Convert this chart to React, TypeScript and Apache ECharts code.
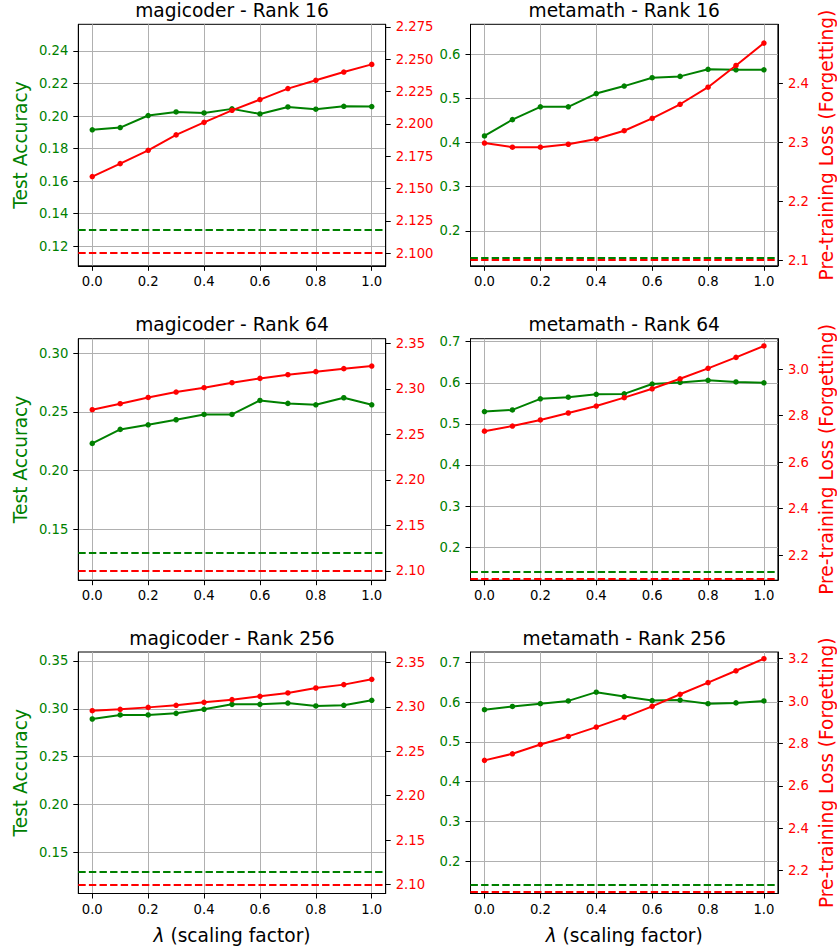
import React, { useEffect, useRef } from "react";
import * as echarts from "echarts";

const lambdas = [0.0, 0.1, 0.2, 0.3, 0.4, 0.5, 0.6, 0.7, 0.8, 0.9, 1.0];

const magicoderR16Acc = [0.1915, 0.1929, 0.2003, 0.2025, 0.2019, 0.2044, 0.2013, 0.2056, 0.2042, 0.206, 0.2058];
const magicoderR16Loss = [2.1592, 2.1692, 2.1795, 2.1914, 2.2011, 2.2104, 2.2187, 2.2272, 2.2336, 2.24, 2.2459];
const metamathR16Acc = [0.415, 0.452, 0.481, 0.481, 0.511, 0.528, 0.547, 0.55, 0.566, 0.565, 0.565];
const metamathR16Loss = [2.299, 2.292, 2.292, 2.297, 2.306, 2.32, 2.341, 2.365, 2.394, 2.431, 2.469];
const magicoderR64Acc = [0.2232, 0.2351, 0.239, 0.2433, 0.2478, 0.2478, 0.2597, 0.2572, 0.256, 0.262, 0.256];
const magicoderR64Loss = [2.2771, 2.2837, 2.2906, 2.2965, 2.3013, 2.3068, 2.3115, 2.3156, 2.3189, 2.3222, 2.3251];
const metamathR64Acc = [0.53, 0.534, 0.561, 0.565, 0.572, 0.573, 0.597, 0.601, 0.606, 0.602, 0.6];
const metamathR64Loss = [2.733, 2.755, 2.781, 2.811, 2.841, 2.877, 2.915, 2.958, 3.003, 3.05, 3.099];
const magicoderR256Acc = [0.2894, 0.2936, 0.2936, 0.2953, 0.2995, 0.3047, 0.3047, 0.3061, 0.303, 0.3037, 0.3089];
const magicoderR256Loss = [2.2956, 2.2971, 2.2993, 2.3016, 2.305, 2.308, 2.3117, 2.3155, 2.3211, 2.3249, 2.3309];
const metamathR256Acc = [0.581, 0.589, 0.596, 0.603, 0.625, 0.614, 0.604, 0.605, 0.596, 0.598, 0.603];
const metamathR256Loss = [2.72, 2.751, 2.795, 2.833, 2.877, 2.923, 2.975, 3.032, 3.087, 3.143, 3.2];

const panelTitles = [
  "magicoder - Rank 16",
  "metamath - Rank 16",
  "magicoder - Rank 64",
  "metamath - Rank 64",
  "magicoder - Rank 256",
  "metamath - Rank 256",
];
const accSeries = [magicoderR16Acc, metamathR16Acc, magicoderR64Acc, metamathR64Acc, magicoderR256Acc, metamathR256Acc];
const lossSeries = [magicoderR16Loss, metamathR16Loss, magicoderR64Loss, metamathR64Loss, magicoderR256Loss, metamathR256Loss];
const accBaselines = [0.1276, 0.1397, 0.1276, 0.1397, 0.1276, 0.1397];
const lossBaselines = [2.1, 2.1, 2.1, 2.1, 2.1, 2.1];

const xTicks = [0.0, 0.2, 0.4, 0.6, 0.8, 1.0];
const accTicks = [
  [0.12, 0.14, 0.16, 0.18, 0.2, 0.22, 0.24],
  [0.2, 0.3, 0.4, 0.5, 0.6],
  [0.15, 0.2, 0.25, 0.3],
  [0.2, 0.3, 0.4, 0.5, 0.6, 0.7],
  [0.15, 0.2, 0.25, 0.3, 0.35],
  [0.2, 0.3, 0.4, 0.5, 0.6, 0.7],
];
const lossTicks = [
  [2.1, 2.125, 2.15, 2.175, 2.2, 2.225, 2.25, 2.275],
  [2.1, 2.2, 2.3, 2.4],
  [2.1, 2.15, 2.2, 2.25, 2.3, 2.35],
  [2.2, 2.4, 2.6, 2.8, 3.0],
  [2.1, 2.15, 2.2, 2.25, 2.3, 2.35],
  [2.2, 2.4, 2.6, 2.8, 3.0, 3.2],
];
const accDecimals = [2, 1, 2, 1, 2, 1];
const lossDecimals = [3, 1, 2, 1, 2, 1];

const accRanges = [
  [0.1079, 0.2564],
  [0.1208, 0.668],
  [0.1069, 0.3122],
  [0.1197, 0.7073],
  [0.1071, 0.3594],
  [0.1187, 0.726],
];
const lossRanges = [
  [2.0902, 2.2769],
  [2.0903, 2.501],
  [2.0898, 2.3551],
  [2.0925, 3.1303],
  [2.0899, 2.3616],
  [2.0914, 3.2316],
];

const FONT = "DejaVu Sans";
const GREEN = "#008000";
const RED = "#ff0000";
const BIG = 18.6;

const colLeft = [78.3, 470.5];
const colWidth = 307.4;
const rowTop = [24.3, 338.7, 652];
const rowHeight = 241.5;

export default function App() {
  const ref = useRef<HTMLDivElement>(null);

  useEffect(() => {
    if (!ref.current) return;
    const chart = echarts.init(ref.current, null, { renderer: "svg" });

    const grids: any[] = [];
    const xAxes: any[] = [];
    const yAxes: any[] = [];
    const series: any[] = [];
    const graphics: any[] = [];

    for (let i = 0; i < 6; i++) {
      const col = i % 2;
      const row = Math.floor(i / 2);
      const left = colLeft[col];
      const top = rowTop[row];
      grids.push({
        left,
        top,
        width: colWidth,
        height: rowHeight,
        show: true,
        borderColor: "#000",
        borderWidth: 1,
        backgroundColor: "transparent",
        containLabel: false,
        outerBoundsMode: "none",
      });
      xAxes.push({
        type: "value",
        gridIndex: i,
        min: -0.05,
        max: 1.05,
        axisLine: { show: true, onZero: false, lineStyle: { color: "#000", width: 1 } },
        axisTick: { show: true, inside: false, length: 5, lineStyle: { color: "#000", width: 1 }, customValues: xTicks },
        axisLabel: {
          show: true,
          customValues: xTicks,
          margin: 9,
          color: "#000",
          fontSize: 13.2,
          fontFamily: FONT,
          formatter: (v: number) => v.toFixed(1),
        },
        splitLine: { show: true, lineStyle: { color: "#b0b0b0", width: 1 } },
      });
      yAxes.push({
        type: "value",
        gridIndex: i,
        position: "left",
        min: accRanges[i][0],
        max: accRanges[i][1],
        axisLine: { show: true, onZero: false, lineStyle: { color: "#000", width: 1 } },
        axisTick: { show: true, inside: false, length: 5, lineStyle: { color: "#000", width: 1 }, customValues: accTicks[i] },
        axisLabel: {
          show: true,
          customValues: accTicks[i],
          margin: 10,
          color: GREEN,
          fontSize: 13.2,
          fontFamily: FONT,
          formatter: (v: number) => v.toFixed(accDecimals[i]),
        },
        splitLine: { show: true, lineStyle: { color: "#b0b0b0", width: 1 } },
      });
      yAxes.push({
        type: "value",
        gridIndex: i,
        position: "right",
        min: lossRanges[i][0],
        max: lossRanges[i][1],
        axisLine: { show: true, onZero: false, lineStyle: { color: "#000", width: 1 } },
        axisTick: { show: true, inside: false, length: 5, lineStyle: { color: "#000", width: 1 }, customValues: lossTicks[i] },
        axisLabel: {
          show: true,
          customValues: lossTicks[i],
          margin: 10,
          color: RED,
          fontSize: 13.2,
          fontFamily: FONT,
          formatter: (v: number) => v.toFixed(lossDecimals[i]),
        },
        splitLine: { show: false },
      });

      series.push({
        type: "line",
        xAxisIndex: i,
        yAxisIndex: 2 * i,
        data: lambdas.map((x, k) => [x, accSeries[i][k]]),
        symbol: "circle",
        symbolSize: 5.5,
        showSymbol: true,
        color: GREEN,
        itemStyle: { color: GREEN },
        lineStyle: { color: GREEN, width: 2 },
        z: 2,
        markLine: {
          silent: true,
          symbol: "none",
          label: { show: false },
          lineStyle: { color: GREEN, width: 2, type: [7.4, 3.2] },
          data: [{ yAxis: accBaselines[i] }],
        },
      });
      series.push({
        type: "line",
        xAxisIndex: i,
        yAxisIndex: 2 * i + 1,
        data: lambdas.map((x, k) => [x, lossSeries[i][k]]),
        symbol: "circle",
        symbolSize: 5.5,
        showSymbol: true,
        color: RED,
        itemStyle: { color: RED },
        lineStyle: { color: RED, width: 2 },
        z: 3,
        markLine: {
          silent: true,
          symbol: "none",
          label: { show: false },
          lineStyle: { color: RED, width: 2, type: [7.4, 3.2] },
          data: [{ yAxis: lossBaselines[i] }],
        },
      });

      graphics.push({
        type: "text",
        x: left + colWidth / 2,
        y: top - 14,
        style: {
          text: panelTitles[i],
          fill: "#000",
          fontSize: BIG,
          fontFamily: FONT,
          align: "center",
          verticalAlign: "middle",
        },
      });
    }

    for (let row = 0; row < 3; row++) {
      const cy = rowTop[row] + rowHeight / 2;
      graphics.push({
        type: "text",
        x: 20,
        y: cy,
        rotation: Math.PI / 2,
        style: {
          text: "Test Accuracy",
          fill: GREEN,
          fontSize: BIG,
          fontFamily: FONT,
          align: "center",
          verticalAlign: "middle",
        },
      });
      graphics.push({
        type: "text",
        x: 826,
        y: cy,
        rotation: Math.PI / 2,
        style: {
          text: "Pre-training Loss (Forgetting)",
          fill: RED,
          fontSize: BIG,
          fontFamily: FONT,
          align: "center",
          verticalAlign: "middle",
        },
      });
    }
    for (let col = 0; col < 2; col++) {
      graphics.push({
        type: "text",
        x: colLeft[col] + colWidth / 2,
        y: 935,
        style: {
          text: "{it|λ} (scaling factor)",
          fill: "#000",
          fontSize: BIG,
          fontFamily: FONT,
          align: "center",
          verticalAlign: "middle",
          rich: {
            it: { fontStyle: "italic", fontSize: BIG, fontFamily: FONT, fill: "#000" },
          },
        },
      });
    }

    chart.setOption({
      animation: false,
      backgroundColor: "#fff",
      grid: grids,
      xAxis: xAxes,
      yAxis: yAxes,
      series,
      graphic: graphics,
    });

    return () => chart.dispose();
  }, []);

  return (
    <div
      ref={ref}
      style={{ position: "absolute", left: 0, top: 0, width: 837, height: 949 }}
    />
  );
}
